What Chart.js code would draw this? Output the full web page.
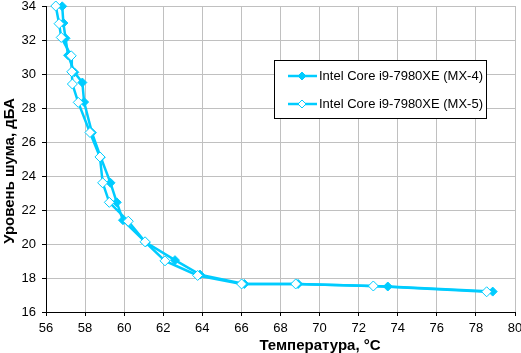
<!DOCTYPE html>
<html>
<head>
<meta charset="utf-8">
<script src="https://cdn.jsdelivr.net/npm/chart.js@4/dist/chart.umd.min.js"></script>
<style>
  html, body { margin: 0; padding: 0; background: #fff; }
  #wrap { position: relative; width: 521px; height: 353px; }
</style>
</head>
<body>
<div id="wrap"><canvas id="noise-chart" width="521" height="353"></canvas></div>
<script>
// series names
const seriesNames = ['Intel Core i9-7980XE (MX-4)', 'Intel Core i9-7980XE (MX-5)'];

// MX-4 (filled diamonds): temperature, noise level
const mx4Temps = [56.83, 56.89, 57.0, 57.13, 57.45, 57.86, 57.95, 58.35, 58.8, 59.3, 59.62, 59.94, 61.1, 62.6, 63.88, 66.15, 68.9, 73.49, 78.86];
const mx4Noise = [33.98, 33.0, 32.1, 31.1, 30.1, 29.5, 28.35, 26.55, 25.1, 23.6, 22.45, 21.4, 20.1, 19.05, 18.2, 17.65, 17.65, 17.5, 17.2];

// MX-5 (open diamonds)
const mx5Temps = [56.5, 56.67, 56.78, 57.29, 57.32, 57.35, 57.65, 58.25, 58.76, 58.9, 59.24, 60.21, 61.07, 62.09, 63.76, 66.01, 68.78, 72.75, 78.55];
const mx5Noise = [34.0, 32.96, 32.15, 31.07, 30.13, 29.41, 28.33, 26.56, 25.12, 23.6, 22.45, 21.34, 20.13, 19.01, 18.15, 17.65, 17.65, 17.53, 17.19];

// axis range / ticks
const xTicks = [56, 58, 60, 62, 64, 66, 68, 70, 72, 74, 76, 78, 80];
const yTicks = [16, 18, 20, 22, 24, 26, 28, 30, 32, 34];

const xTitle = 'Температура, °C';
const yTitle = 'Уровень шума, дБА';

const cyan = '#00ccff';
const font = 'Liberation Sans, Arial, sans-serif';

const toPoints = (xs, ys) => xs.map((x, i) => ({ x: x, y: ys[i] }));

// legend box + axis titles, placed like in the original
const extras = {
    id: 'extras',
    afterDraw(chart) {
        const ctx = chart.ctx;
        ctx.save();
        ctx.fillStyle = '#fff';
        ctx.fillRect(274.5, 60.5, 212, 58);
        ctx.strokeStyle = '#000';
        ctx.lineWidth = 1;
        ctx.strokeRect(274.5, 60.5, 212, 58);
        const rows = [76, 104];
        rows.forEach((y, i) => {
            ctx.strokeStyle = cyan;
            ctx.lineWidth = 2.5;
            ctx.beginPath();
            ctx.moveTo(288, y);
            ctx.lineTo(317, y);
            ctx.stroke();
            ctx.beginPath();
            ctx.moveTo(302, y - 4);
            ctx.lineTo(306, y);
            ctx.lineTo(302, y + 4);
            ctx.lineTo(298, y);
            ctx.closePath();
            ctx.fillStyle = i === 0 ? cyan : '#fff';
            ctx.fill();
            ctx.lineWidth = 1;
            ctx.stroke();
            ctx.fillStyle = '#000';
            ctx.font = '13px ' + font;
            ctx.textBaseline = 'middle';
            ctx.fillText(seriesNames[i], 319, y);
        });

        // axis titles
        ctx.fillStyle = '#000';
        ctx.font = 'bold 15px ' + font;
        ctx.textAlign = 'center';
        ctx.textBaseline = 'middle';
        ctx.fillText(xTitle, 320, 346);
        ctx.translate(10, 171);
        ctx.rotate(-Math.PI / 2);
        ctx.fillText(yTitle, 0, 0);
        ctx.restore();
    }
};

const ctx = document.getElementById('noise-chart').getContext('2d');
new Chart(ctx, {
    type: 'line',
    data: {
        datasets: [{
            label: seriesNames[0],
            data: toPoints(mx4Temps, mx4Noise),
            borderColor: cyan,
            backgroundColor: cyan,
            borderWidth: 2.5,
            pointStyle: 'rectRot',
            pointRadius: 4.5,
            pointBorderWidth: 1,
            pointBackgroundColor: cyan,
            clip: false,
            order: 1
        }, {
            label: seriesNames[1],
            data: toPoints(mx5Temps, mx5Noise),
            borderColor: cyan,
            backgroundColor: '#fff',
            borderWidth: 2.5,
            pointStyle: 'rectRot',
            pointRadius: 5,
            pointBorderWidth: 1,
            pointBackgroundColor: '#fff',
            clip: false,
            order: 0
        }]
    },
    options: {
        responsive: false,
        animation: false,
        layout: { padding: { left: 0, top: 5, right: 6, bottom: 0 } },
        plugins: {
            legend: { display: false },
            tooltip: { enabled: false }
        },
        scales: {
            x: {
                type: 'linear',
                min: xTicks[0],
                max: xTicks[xTicks.length - 1],
                afterBuildTicks: (scale) => { scale.ticks = xTicks.map(v => ({ value: v })); },
                afterFit: (scale) => {
                    scale.height = 41;
                    scale.paddingLeft = 0;
                    scale.paddingRight = 0;
                },
                grid: { color: '#c0c0c0', tickColor: '#000', tickLength: 4 },
                border: { color: '#000', width: 1 },
                ticks: { color: '#000', font: { family: font, size: 13 }, padding: 5, maxRotation: 0 }
            },
            y: {
                min: yTicks[0],
                max: yTicks[yTicks.length - 1],
                afterBuildTicks: (scale) => { scale.ticks = yTicks.map(v => ({ value: v })); },
                afterFit: (scale) => {
                    scale.width = 46;
                    scale.paddingTop = 0;
                    scale.paddingBottom = 0;
                },
                grid: { color: '#c0c0c0', tickColor: '#000', tickLength: 4 },
                border: { color: '#000', width: 1 },
                ticks: { color: '#000', font: { family: font, size: 13 }, padding: 6 }
            }
        }
    },
    plugins: [extras]
});
</script>
</body>
</html>
